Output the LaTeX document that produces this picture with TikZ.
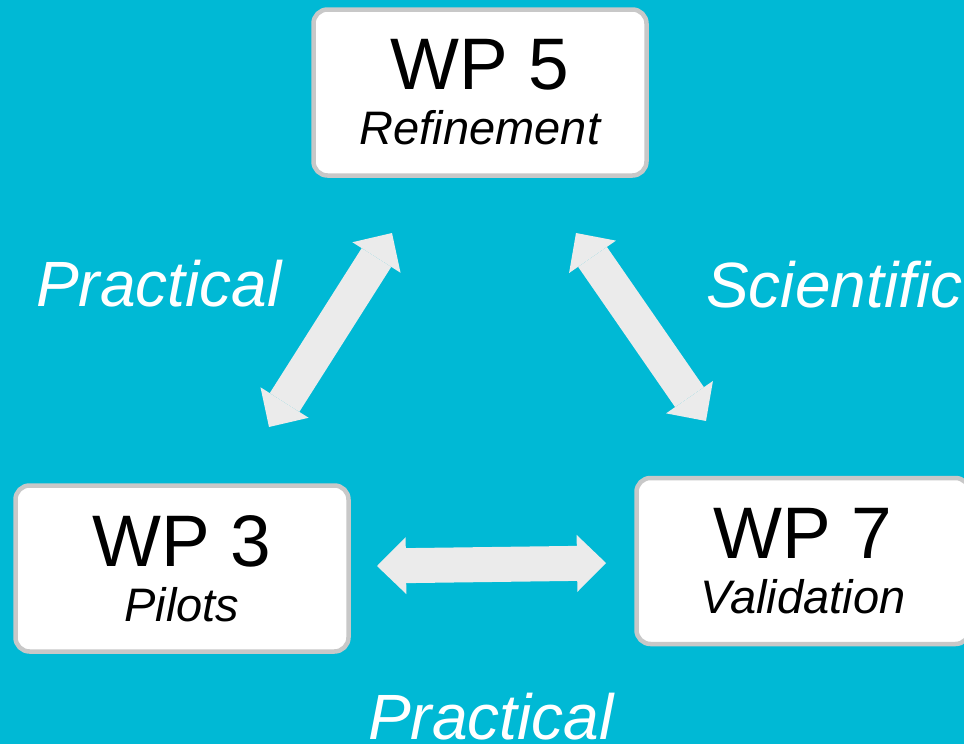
\documentclass[tikz,border=0pt]{standalone}
\usepackage{fontspec}
\setmainfont{Liberation Sans}
\usetikzlibrary{arrows.meta}
\definecolor{wpcyan}{HTML}{00B9D5}
\definecolor{wpgray}{HTML}{EBEBEB}
\definecolor{wpborder}{HTML}{C8C8C8}
\newcommand\wpsub[1]{{\fontsize{47}{55}\selectfont\itshape #1}}
\begin{document}
\begin{tikzpicture}[x=1pt, y=-1pt,
		wp/.style={draw=wpborder, fill=white, line width=4.5pt, rounded corners=14pt,
			minimum width=333pt, minimum height=166pt, inner sep=0pt, align=center,
			font=\fontsize{73}{55}\selectfont},
		lbl/.style={text=white, inner sep=0pt, anchor=base west,
			font=\fontsize{64}{72}\selectfont\itshape},
		dbl/.style={draw=wpgray, line width=35pt,
			{Triangle[length=29pt, width=57pt, line width=0pt]}-{Triangle[length=29pt, width=57pt, line width=0pt]}}
		]
	\useasboundingbox (0,0) rectangle (964,744);
	\clip (0,0) rectangle (964,744);
	\fill [wpcyan] (0,0) rectangle (964,744);
	\node [wp] (w5) at (480,92.5) {WP 5\\\wpsub{Refinement}};
	\node [wp] (w3) at (182,568.5) {WP 3\\\wpsub{Pilots}};
	\node [wp] (w7) at (803,561) {WP 7\\\wpsub{Validation}};
	\coordinate (t53) at (392,233);
	\coordinate (t35) at (269,427);
	\coordinate (t57) at (576,233);
	\coordinate (t75) at (706,421);
	\coordinate (t37) at (377,566);
	\coordinate (t73) at (606,563);
	\draw [dbl] (t35) -- (t53);
	\draw [dbl] (t57) -- (t75);
	\draw [dbl] (t37) -- (t73);
	\node [lbl] (l35) at (36,306) {Practical};
	\node [lbl] (l57) at (706,307) {Scientific};
	\node [lbl] (l37) at (368,739) {Practical};
\end{tikzpicture}
\end{document}
